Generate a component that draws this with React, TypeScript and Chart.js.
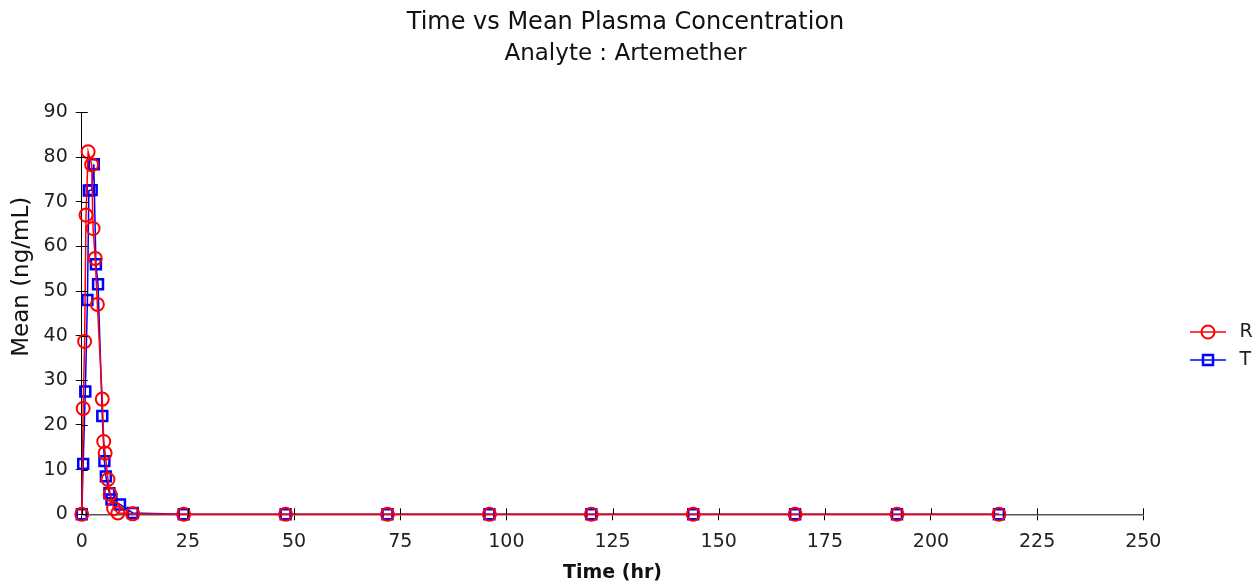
import React, { useEffect, useRef } from 'react';
import { Chart, registerables } from 'chart.js';

Chart.register(...registerables);

const TITLE = 'Time vs Mean Plasma Concentration';
const SUBTITLE = 'Analyte : Artemether';
const X_TITLE = 'Time (hr)';
const Y_TITLE = 'Mean (ng/mL)';

const seriesNames = ['R', 'T'];

const timesR = [0, 0.33, 0.67, 1, 1.5, 2.33, 2.67, 3.17, 3.67, 4.83, 5.17, 5.5, 6.17, 6.67, 7.5, 8.5, 12, 24, 48, 72, 96, 120, 144, 168, 192, 216];
const meanR = [0, 23.7, 38.7, 67, 81.2, 78.3, 64, 57.3, 47, 25.8, 16.3, 13.7, 7.8, 4.5, 1.3, 0.3, 0.1, 0, 0, 0, 0, 0, 0, 0, 0, 0];

const timesT = [0, 0.33, 0.83, 1.33, 1.67, 2.33, 2.83, 3.33, 3.83, 4.83, 5.33, 5.67, 6.5, 7, 9, 12, 24, 48, 72, 96, 120, 144, 168, 192, 216];
const meanT = [0, 11.3, 27.5, 48, 72.5, 72.6, 78.4, 56, 51.5, 22, 11.9, 8.5, 4.7, 3.3, 2.2, 0.3, 0, 0, 0, 0, 0, 0, 0, 0, 0];

const xTicks = [0, 25, 50, 75, 100, 125, 150, 175, 200, 225, 250];
const yTicks = [0, 10, 20, 30, 40, 50, 60, 70, 80, 90];

const FONT = "'DejaVu Sans', 'Liberation Sans', Arial, sans-serif";

function makeIcon(color: string, shape: 'circle' | 'rect'): HTMLCanvasElement {
  const c = document.createElement('canvas');
  c.width = 36;
  c.height = 18;
  const ctx = c.getContext('2d')!;
  ctx.strokeStyle = color;
  ctx.lineWidth = 1.5;
  ctx.beginPath();
  ctx.moveTo(0, 9);
  ctx.lineTo(36, 9);
  ctx.stroke();
  if (shape === 'circle') {
    ctx.lineWidth = 2;
    ctx.beginPath();
    ctx.arc(18, 9, 6.5, 0, Math.PI * 2);
    ctx.stroke();
  } else {
    ctx.lineWidth = 2.5;
    ctx.strokeRect(13, 4, 10, 10);
  }
  return c;
}

const crossTicks = {
  id: 'crossTicks',
  afterDraw(chart: any) {
    const { ctx, chartArea } = chart;
    const xs = chart.scales.x;
    const ys = chart.scales.y;
    ctx.save();
    ctx.lineWidth = 1;
    ctx.strokeStyle = '#000';
    ys.ticks.forEach((_: any, i: number) => {
      const y = Math.round(ys.getPixelForTick(i)) + 0.5;
      ctx.beginPath();
      ctx.moveTo(chartArea.left, y);
      ctx.lineTo(chartArea.left + 6, y);
      ctx.stroke();
    });
    xs.ticks.forEach((_: any, i: number) => {
      const x = Math.round(xs.getPixelForTick(i)) + 0.5;
      ctx.beginPath();
      ctx.moveTo(x, chartArea.bottom);
      ctx.lineTo(x, chartArea.bottom - 6);
      ctx.stroke();
    });
    ctx.restore();
  },
};

const placeLegend = {
  id: 'placeLegend',
  afterLayout(chart: any) {
    const lg = chart.legend;
    if (!lg) return;
    const w = lg.width;
    const h = lg.height;
    lg.left = 1177;
    lg.right = lg.left + w;
    lg.top = 346 - h / 2;
    lg.bottom = lg.top + h;
  },
};

export default function App() {
  const ref = useRef<HTMLCanvasElement | null>(null);

  useEffect(() => {
    if (!ref.current) return;
    const icons = [makeIcon('#ff0000', 'circle'), makeIcon('#0000ff', 'rect')];
    const chart = new Chart(ref.current, {
      type: 'line',
      data: {
        datasets: [
          {
            label: seriesNames[0],
            data: timesR.map((t, i) => ({ x: t, y: meanR[i] })),
            borderColor: '#ff0000',
            backgroundColor: 'rgba(0,0,0,0)',
            borderWidth: 1.5,
            pointStyle: 'circle',
            pointRadius: 6.5,
            pointBorderWidth: 2,
            pointBorderColor: '#ff0000',
            pointBackgroundColor: 'rgba(0,0,0,0)',
            tension: 0,
            clip: false,
          },
          {
            label: seriesNames[1],
            data: timesT.map((t, i) => ({ x: t, y: meanT[i] })),
            borderColor: '#0000ff',
            backgroundColor: 'rgba(0,0,0,0)',
            borderWidth: 1.5,
            pointStyle: 'rect',
            pointRadius: 7,
            pointBorderWidth: 2.5,
            pointBorderColor: '#0000ff',
            pointBackgroundColor: 'rgba(0,0,0,0)',
            tension: 0,
            clip: false,
          },
        ],
      },
      options: {
        animation: false,
        responsive: true,
        maintainAspectRatio: false,
        layout: { padding: { left: 8, right: 14, top: 4, bottom: 0 } },
        plugins: {
          title: {
            display: true,
            text: TITLE,
            color: '#111',
            font: { family: FONT, size: 24, weight: 'normal' },
            padding: { top: 4, bottom: 2 },
          },
          subtitle: {
            display: true,
            text: SUBTITLE,
            color: '#111',
            font: { family: FONT, size: 23, weight: 'normal' },
            padding: { top: 1, bottom: 45 },
          },
          legend: {
            display: true,
            position: 'right',
            fullSize: false,
            labels: {
              usePointStyle: true,
              pointStyleWidth: 44,
              padding: 9,
              color: '#222',
              font: { family: FONT, size: 19 },
              generateLabels: (ch: any) =>
                ch.data.datasets.map((ds: any, i: number) => ({
                  text: ds.label,
                  pointStyle: icons[i],
                  fillStyle: 'rgba(0,0,0,0)',
                  strokeStyle: ds.borderColor,
                  lineWidth: 0,
                  hidden: false,
                  datasetIndex: i,
                  fontColor: '#222',
                })),
            },
          },
          tooltip: { enabled: false },
        },
        scales: {
          x: {
            type: 'linear',
            min: 0,
            max: 250,
            afterBuildTicks: (s: any) => {
              s.ticks = xTicks.map((v) => ({ value: v }));
            },
            ticks: {
              color: '#222',
              font: { family: FONT, size: 19 },
              padding: 10,
              maxRotation: 0,
              autoSkip: false,
            },
            grid: { drawOnChartArea: false, drawTicks: true, tickLength: 6, color: '#000' },
            border: { display: true, color: '#555', width: 1.5 },
            title: {
              display: true,
              text: X_TITLE,
              color: '#111',
              font: { family: FONT, size: 19, weight: 'bold', lineHeight: 1.1 },
              padding: { top: 0, bottom: 0 },
            },
          },
          y: {
            type: 'linear',
            min: 0,
            max: 90,
            afterBuildTicks: (s: any) => {
              s.ticks = yTicks.map((v) => ({ value: v }));
            },
            ticks: {
              color: '#222',
              font: { family: FONT, size: 19 },
              padding: 8,
              autoSkip: false,
            },
            grid: { drawOnChartArea: false, drawTicks: true, tickLength: 6, color: '#000' },
            border: { display: true, color: '#000', width: 1 },
            title: {
              display: true,
              text: '          ' + Y_TITLE,
              color: '#111',
              font: { family: FONT, size: 23, weight: 'normal' },
              padding: { top: 0, bottom: 0 },
            },
          },
          ySpacer: {
            type: 'linear',
            position: 'right',
            display: true,
            min: 0,
            max: 90,
            ticks: { display: false },
            grid: { display: false, drawTicks: false },
            border: { display: false },
            title: { display: false },
            afterFit: (s: any) => {
              s.width = 14;
            },
          },
        },
      },
      plugins: [crossTicks, placeLegend],
    } as any);
    return () => chart.destroy();
  }, []);

  return (
    <div style={{ position: 'fixed', left: 0, top: 0, width: 1257, height: 584, background: '#fff' }}>
      <canvas ref={ref} />
    </div>
  );
}
